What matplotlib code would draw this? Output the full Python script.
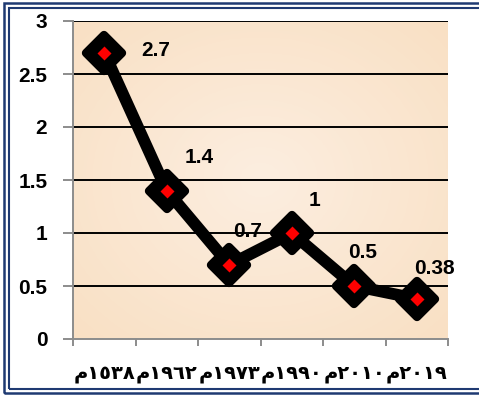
import numpy as np
import matplotlib.pyplot as plt
from matplotlib.colors import LinearSegmentedColormap
from matplotlib.markers import MarkerStyle
from matplotlib.patches import Rectangle

# البيانات
years = ['م١٥٣٨', 'م١٩٦٢', 'م١٩٧٣', 'م١٩٩٠', 'م٢٠١٠', 'م٢٠١٩']
values = [2.7, 1.4, 0.7, 1.0, 0.5, 0.38]
value_labels = ['2.7', '1.4', '0.7', '1', '0.5', '0.38']
y_ticks = [0, 0.5, 1, 1.5, 2, 2.5, 3]
y_tick_labels = ['0', '0.5', '1', '1.5', '2', '2.5', '3']

# إزاحة التسميات بالبكسل (dx, dy)
label_offsets = [(51, 2), (32, 33), (18, 33), (23, 32), (8, 34), (18, 30)]

W, H = 479, 395
fig = plt.figure(figsize=(W / 100, H / 100), dpi=100)
ax = fig.add_axes([73 / W, 1 - 339 / H, (448 - 73) / W, (339 - 21) / H])

x = np.arange(len(years))
ax.set_xlim(-0.5, len(years) - 0.5)
ax.set_ylim(0, 3)

# خلفية متدرجة بلون الخوخ
gx, gy = np.meshgrid(np.linspace(-1, 1, 200), np.linspace(-1, 1, 200))
grad = np.clip(np.sqrt(gx ** 2 + gy ** 2) / 1.4, 0, 1)
cmap = LinearSegmentedColormap.from_list('peach', ['#FCEEE0', '#F9E0C4'])
ax.imshow(grad, cmap=cmap, extent=[0, 1, 0, 1], transform=ax.transAxes,
          aspect='auto', zorder=0, interpolation='bilinear')

# خطوط الشبكة
for yv in y_ticks[1:]:
    ax.axhline(yv, color='black', lw=1.4, zorder=1)

# الخط والعلامات
ax.plot(x, values, color='black', lw=8.5, solid_joinstyle='round',
        solid_capstyle='round', zorder=3)
ax.plot(x, values, ls='none', marker=MarkerStyle('D', joinstyle='round'),
        ms=18, mfc='black', mec='black', mew=6, zorder=4)
ax.plot(x, values, ls='none', marker='D', ms=7.5, mfc='red', mec='none', zorder=5)

font = 'Liberation Sans'
for xi, yi, lab, (dx, dy) in zip(x, values, value_labels, label_offsets):
    ax.annotate(lab, (xi, yi), xytext=(dx, dy), textcoords='offset pixels',
                ha='center', va='center', fontsize=15, fontweight='bold',
                family=font, zorder=6)

# المحاور
for s in ['top', 'right']:
    ax.spines[s].set_visible(False)
for s in ['left', 'bottom']:
    ax.spines[s].set_color('#8C8C8C')
    ax.spines[s].set_linewidth(1.4)

ax.set_yticks(y_ticks)
ax.set_yticklabels(y_tick_labels, fontsize=15, fontweight='bold', family=font)
ax.tick_params(axis='y', length=7.5, width=1.4, color='#8C8C8C', pad=11)

ax.set_xticks(x)
ax.set_xticklabels(years, fontsize=14, fontweight='bold', family='DejaVu Sans')
ax.set_xticks(np.arange(-0.5, len(years)), minor=True)
ax.tick_params(axis='x', which='major', length=0, pad=18)
ax.tick_params(axis='x', which='minor', length=5, width=1.4, color='#8C8C8C')

# الإطار المزدوج
navy = '#1F3A72'
fig.patches.append(Rectangle((3.5 / W, 1 - 392.5 / H), 1, (392.5 - 3) / H,
                             transform=fig.transFigure, fill=False,
                             ec=navy, lw=1.8))
fig.patches.append(Rectangle((8.5 / W, 1 - 388.5 / H), 1, (388.5 - 7.5) / H,
                             transform=fig.transFigure, fill=False,
                             ec=navy, lw=1.5))

fig.savefig('out.png', dpi=100)
